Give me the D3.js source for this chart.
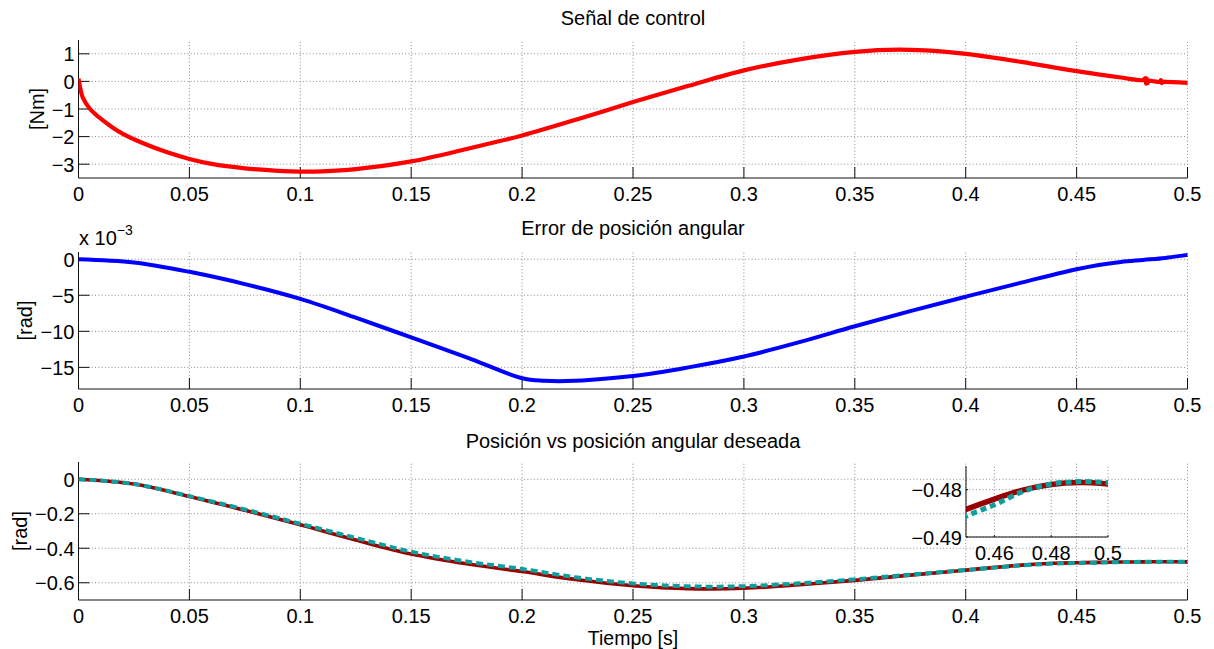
<!DOCTYPE html>
<html>
<head>
<meta charset="utf-8">
<script src="https://cdn.jsdelivr.net/npm/d3@7"></script>
<style>
  body { margin: 0; background: #fff; }
  text { font-family: "Liberation Sans", Arial, sans-serif; fill: #000; }
</style>
</head>
<body>
<div id="chart"></div>
<script>
// ---- data ----
const xTicks = [0, 0.05, 0.1, 0.15, 0.2, 0.25, 0.3, 0.35, 0.4, 0.45, 0.5];

// Señal de control [Nm]
const tControl = [0, 0.001, 0.002, 0.005, 0.0075, 0.01, 0.015, 0.02, 0.03, 0.04, 0.05, 0.06, 0.075, 0.09, 0.1,
  0.11, 0.125, 0.15, 0.175, 0.19, 0.2, 0.225, 0.25, 0.275, 0.3, 0.325, 0.35, 0.37, 0.39, 0.4, 0.425, 0.45,
  0.47, 0.48, 0.481, 0.4813, 0.4816, 0.482, 0.4825, 0.485, 0.4878, 0.488, 0.4883, 0.4886, 0.49, 0.5];
const uControl = [0.1, -0.33, -0.6, -0.98, -1.18, -1.35, -1.65, -1.9, -2.27, -2.57, -2.81, -2.99, -3.15, -3.24, -3.27,
  -3.26, -3.18, -2.9, -2.45, -2.16, -1.96, -1.37, -0.75, -0.16, 0.4, 0.8, 1.07, 1.15, 1.08, 1.0, 0.71, 0.37,
  0.14, 0.05, 0.12, -0.08, 0.1, -0.06, 0.02, 0.0, -0.01, 0.05, -0.06, -0.02, -0.02, -0.05];
const yTicksControl = [-3, -2, -1, 0, 1];

// Error de posición angular [rad] (x 10^-3)
const tError = [0, 0.025, 0.05, 0.075, 0.1, 0.125, 0.15, 0.175, 0.2, 0.21, 0.22, 0.25, 0.275, 0.3, 0.325, 0.35,
  0.375, 0.4, 0.425, 0.45, 0.46, 0.47, 0.48, 0.49, 0.5];
const eError = [0, -0.45, -1.75, -3.45, -5.5, -8.1, -10.85, -13.6, -16.5, -16.85, -16.9, -16.2, -15.0, -13.5, -11.5, -9.3,
  -7.2, -5.2, -3.25, -1.4, -0.8, -0.38, -0.1, 0.18, 0.6];
const yTicksError = [-15, -10, -5, 0];

// Posición vs posición angular deseada [rad]
const tPos = [0, 0.025, 0.05, 0.075, 0.1, 0.125, 0.15, 0.175, 0.2, 0.225, 0.25, 0.275, 0.3, 0.325, 0.35, 0.375,
  0.4, 0.425, 0.44, 0.45, 0.46, 0.47, 0.48, 0.49, 0.5];
const posActual = [0, -0.028, -0.1, -0.18, -0.264, -0.352, -0.433, -0.49, -0.535, -0.583, -0.617, -0.634, -0.632,
  -0.612, -0.586, -0.556, -0.527, -0.498, -0.4868, -0.4842, -0.482, -0.4801, -0.4789, -0.4785, -0.4788];
const posDesired = [0, -0.027, -0.098, -0.175, -0.258, -0.34, -0.42, -0.477, -0.52, -0.57, -0.604, -0.621, -0.62,
  -0.603, -0.58, -0.553, -0.526, -0.5, -0.4886, -0.4856, -0.4832, -0.4804, -0.4788, -0.4783, -0.4785];
const yTicksPos = [-0.6, -0.4, -0.2, 0];
const insetXTicks = [0.46, 0.48, 0.5];
const insetYTicks = [-0.49, -0.48];

// ---- drawing ----
const W = 1214, H = 649;
const svg = d3.select('#chart').append('svg').attr('width', W).attr('height', H);

const x = d3.scaleLinear().domain([0, 0.5]).range([78.5, 1187.5]);
const fmt = d => String(+d.toFixed(4)).replace('-', '\u2212');
const tickLen = 11;
const smooth = d3.curveCatmullRom.alpha(0.5);

function zip (ts, vs) {
  return ts.map((t, i) => [t, vs[i]]);
}

function drawAxes (g, xs, ys, xt, yt, opts) {
  const [x0, x1] = xs.range();
  const [y0, y1] = ys.range(); // y0 bottom, y1 top
  const tl = opts.tickLen;
  // grid
  g.selectAll(null).data(xt).enter().append('line')
    .attr('x1', d => xs(d)).attr('x2', d => xs(d)).attr('y1', y0).attr('y2', y1)
    .attr('stroke', '#8a8a8a').attr('stroke-dasharray', '1,2.3');
  g.selectAll(null).data(yt).enter().append('line')
    .attr('x1', x0).attr('x2', x1).attr('y1', d => ys(d)).attr('y2', d => ys(d))
    .attr('stroke', '#8a8a8a').attr('stroke-dasharray', '1,2.3');
  // axis lines
  g.append('line').attr('x1', x0).attr('x2', x1).attr('y1', y0).attr('y2', y0).attr('stroke', '#111');
  g.append('line').attr('x1', x0).attr('x2', x0).attr('y1', y0).attr('y2', y1).attr('stroke', '#111');
  // ticks (inward)
  g.selectAll(null).data(xt).enter().append('line')
    .attr('x1', d => xs(d)).attr('x2', d => xs(d)).attr('y1', y0).attr('y2', y0 - tl).attr('stroke', '#111');
  g.selectAll(null).data(yt).enter().append('line')
    .attr('x1', x0).attr('x2', x0 + tl).attr('y1', d => ys(d)).attr('y2', d => ys(d)).attr('stroke', '#111');
  // tick labels
  g.selectAll(null).data(xt).enter().append('text')
    .attr('x', d => xs(d)).attr('y', y0 + 22.5).attr('text-anchor', 'middle')
    .style('font-size', '20px').text(fmt);
  g.selectAll(null).data(yt).enter().append('text')
    .attr('x', x0 - 4).attr('y', d => ys(d) + 7.5).attr('text-anchor', 'end')
    .style('font-size', '20px').text(fmt);
}

function panel (cfg) {
  const g = svg.append('g');
  const y = d3.scaleLinear().domain(cfg.yDomain).range([cfg.bottom, cfg.top]);
  drawAxes(g, x, y, xTicks, cfg.yTicks, { tickLen: tickLen });
  const clipId = 'clip' + cfg.id;
  svg.append('clipPath').attr('id', clipId).append('rect')
    .attr('x', x.range()[0]).attr('y', cfg.top - 6)
    .attr('width', x.range()[1] - x.range()[0] + 4).attr('height', cfg.bottom - cfg.top + 6);
  g.append('text').attr('x', (x.range()[0] + x.range()[1]) / 2).attr('y', cfg.titleY)
    .attr('text-anchor', 'middle').style('font-size', '20px').text(cfg.title);
  g.append('text')
    .attr('transform', 'translate(' + cfg.labelX + ',' + ((cfg.top + cfg.bottom) / 2) + ') rotate(-90)')
    .attr('text-anchor', 'middle').attr('dy', '0.35em').style('font-size', '20px').text(cfg.ylabel);
  return { g: g, y: y, clip: 'url(#' + clipId + ')' };
}

// panel 1
const p1 = panel({ id: 1, yDomain: [-3.5, 1.5], top: 40, bottom: 178, yTicks: yTicksControl,
  title: 'Señal de control', titleY: 25, ylabel: '[Nm]', labelX: 37 });
p1.g.append('path').datum(zip(tControl, uControl))
  .attr('clip-path', p1.clip)
  .attr('fill', 'none').attr('stroke', '#ff0000').attr('stroke-width', 4.2)
  .attr('d', d3.line().x(d => x(d[0])).y(d => p1.y(d[1])).curve(smooth));

// panel 2
const p2 = panel({ id: 2, yDomain: [-18, 1], top: 252, bottom: 389, yTicks: yTicksError,
  title: 'Error de posición angular', titleY: 235, ylabel: '[rad]', labelX: 25 });
p2.g.append('path').datum(zip(tError, eError))
  .attr('clip-path', p2.clip)
  .attr('fill', 'none').attr('stroke', '#0000ff').attr('stroke-width', 4)
  .attr('d', d3.line().x(d => x(d[0])).y(d => p2.y(d[1])).curve(smooth));
const expo = p2.g.append('text').attr('x', 79).attr('y', 245).style('font-size', '20px');
expo.append('tspan').text('x 10');
expo.append('tspan').attr('dy', -10).style('font-size', '14px').text('\u22123');

// panel 3
const p3 = panel({ id: 3, yDomain: [-0.7, 0.1], top: 462, bottom: 600, yTicks: yTicksPos,
  title: 'Posición vs posición angular deseada', titleY: 448, ylabel: '[rad]', labelX: 20 });
const line3 = d3.line().x(d => x(d[0])).y(d => p3.y(d[1])).curve(smooth);
p3.g.append('path').datum(zip(tPos, posActual)).attr('clip-path', p3.clip)
  .attr('fill', 'none').attr('stroke', '#990000').attr('stroke-width', 3.6).attr('d', line3);
p3.g.append('path').datum(zip(tPos, posDesired)).attr('clip-path', p3.clip)
  .attr('fill', 'none').attr('stroke', '#0d9e9e').attr('stroke-width', 4)
  .attr('stroke-dasharray', '7,4').attr('d', line3);

svg.append('text').attr('x', 633).attr('y', 644.5).attr('text-anchor', 'middle')
  .style('font-size', '19.5px').text('Tiempo [s]');

// inset (zoom on the end of panel 3)
const xi = d3.scaleLinear().domain([0.45, 0.5]).range([966, 1108]);
const yi = d3.scaleLinear().domain([-0.49, -0.475]).range([537, 466]);
const gi = svg.append('g');
drawAxes(gi, xi, yi, insetXTicks, insetYTicks, { tickLen: 2 });
svg.append('clipPath').attr('id', 'clipInset').append('rect')
  .attr('x', 966).attr('y', 466).attr('width', 142).attr('height', 71);
const lineI = d3.line().x(d => xi(d[0])).y(d => yi(d[1])).curve(smooth);
gi.append('path').datum(zip(tPos, posActual)).attr('clip-path', 'url(#clipInset)')
  .attr('fill', 'none').attr('stroke', '#990000').attr('stroke-width', 5.5).attr('d', lineI);
gi.append('path').datum(zip(tPos, posDesired)).attr('clip-path', 'url(#clipInset)')
  .attr('fill', 'none').attr('stroke', '#0d9e9e').attr('stroke-width', 5)
  .attr('stroke-dasharray', '6,4').attr('d', lineI);
</script>
</body>
</html>
